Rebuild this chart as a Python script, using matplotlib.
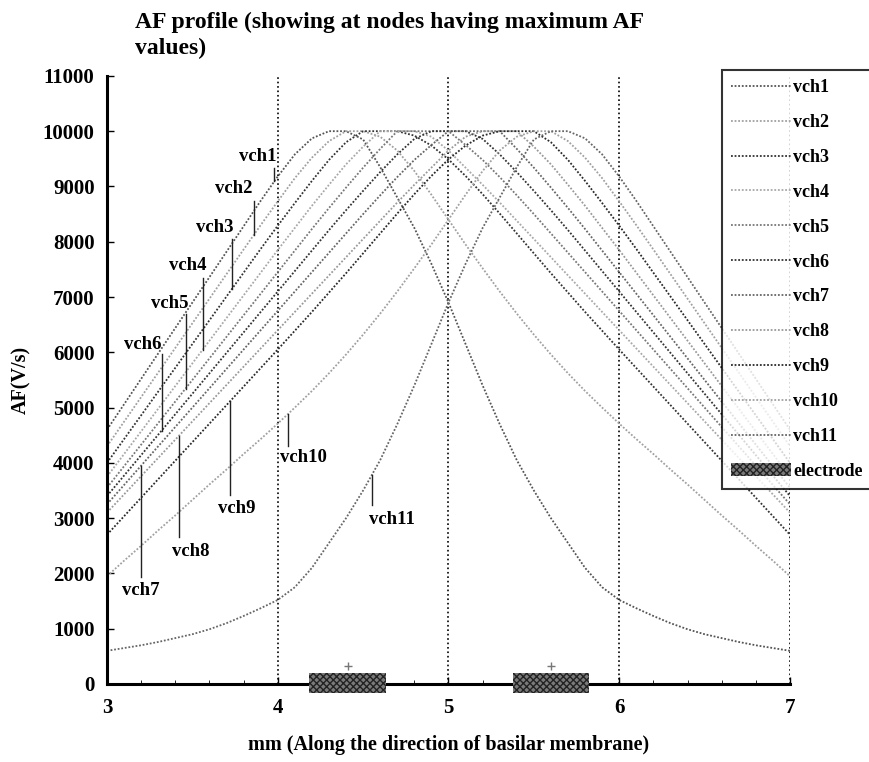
import numpy as np
import matplotlib
matplotlib.use('Agg')
import matplotlib.pyplot as plt
from matplotlib.patches import Rectangle
from matplotlib.lines import Line2D

plt.rcParams['font.family'] = ['Liberation Serif', 'DejaVu Serif']
plt.rcParams['font.weight'] = 'bold'
plt.rcParams['axes.labelweight'] = 'bold'

# positions along the basilar membrane (mm)
x_mm = [3.0, 3.1, 3.2, 3.3, 3.4, 3.5, 3.6, 3.7, 3.8, 3.9,
        4.0, 4.1, 4.2, 4.3, 4.4, 4.5, 4.6, 4.7, 4.8, 4.9,
        5.0, 5.1, 5.2, 5.3, 5.4, 5.5, 5.6, 5.7, 5.8, 5.9,
        6.0, 6.1, 6.2, 6.3, 6.4, 6.5, 6.6, 6.7, 6.8, 6.9, 7.0]

# AF values (V/s), one list per virtual channel
vch1 = [4600, 5060, 5520, 5980, 6440, 6900, 7360, 7820, 8280, 8740, 9180, 9580, 9870, 10000,
        10000, 9850, 9350, 8800, 8250, 7600, 6900, 6150, 5400, 4700, 4050, 3500, 3000, 2550,
        2100, 1750, 1520, 1370, 1230, 1100, 990, 900, 830, 760, 700, 650, 600]
vch2 = [4300, 4745, 5190, 5635, 6080, 6525, 6970, 7415, 7860, 8300, 8730, 9150, 9520, 9820,
        10000, 10000, 9900, 9650, 9280, 8850, 8400, 7950, 7520, 7100, 6700, 6320, 5960, 5620,
        5300, 5000, 4710, 4430, 4160, 3880, 3610, 3330, 3050, 2780, 2500, 2230, 1950]
vch3 = [4000, 4430, 4860, 5290, 5720, 6150, 6580, 7010, 7440, 7870, 8290, 8700, 9100, 9480,
        9800, 10000, 10000, 10000, 9920, 9740, 9490, 9190, 8860, 8510, 8150, 7790, 7430, 7080,
        6730, 6390, 6050, 5715, 5380, 5045, 4710, 4375, 4040, 3705, 3370, 3035, 2700]
vch4 = [3750, 4160, 4570, 4980, 5390, 5800, 6210, 6620, 7030, 7440, 7850, 8250, 8650, 9030,
        9400, 9720, 10000, 10000, 10000, 9900, 9650, 9340, 9030, 8710, 8380, 8050, 7720, 7390,
        7060, 6730, 6400, 6070, 5740, 5410, 5080, 4750, 4420, 4090, 3760, 3430, 3100]
vch5 = [3550, 3940, 4330, 4720, 5110, 5500, 5890, 6280, 6670, 7060, 7450, 7840, 8230, 8610,
        8980, 9340, 9680, 10000, 10000, 10000, 10000, 9750, 9480, 9170, 8840, 8500, 8150, 7800,
        7450, 7100, 6750, 6400, 6050, 5700, 5350, 5000, 4650, 4300, 3950, 3600, 3250]
vch6 = [3400, 3770, 4140, 4510, 4880, 5250, 5620, 5990, 6360, 6730, 7100, 7470, 7840, 8210,
        8570, 8920, 9260, 9580, 9860, 10000, 10000, 10000, 9860, 9580, 9260, 8920, 8570, 8210,
        7840, 7470, 7100, 6730, 6360, 5990, 5620, 5250, 4880, 4510, 4140, 3770, 3400]
vch7 = [3250, 3600, 3950, 4300, 4650, 5000, 5350, 5700, 6050, 6400, 6750, 7100, 7450, 7800,
        8150, 8500, 8840, 9170, 9480, 9750, 10000, 10000, 10000, 10000, 9680, 9340, 8980, 8610,
        8230, 7840, 7450, 7060, 6670, 6280, 5890, 5500, 5110, 4720, 4330, 3940, 3550]
vch8 = [3100, 3430, 3760, 4090, 4420, 4750, 5080, 5410, 5740, 6070, 6400, 6730, 7060, 7390,
        7720, 8050, 8380, 8710, 9030, 9340, 9650, 9900, 10000, 10000, 10000, 9720, 9400, 9030,
        8650, 8250, 7850, 7440, 7030, 6620, 6210, 5800, 5390, 4980, 4570, 4160, 3750]
vch9 = [2700, 3035, 3370, 3705, 4040, 4375, 4710, 5045, 5380, 5715, 6050, 6390, 6730, 7080,
        7430, 7790, 8150, 8510, 8860, 9190, 9490, 9740, 9920, 10000, 10000, 10000, 9800, 9480,
        9100, 8700, 8290, 7870, 7440, 7010, 6580, 6150, 5720, 5290, 4860, 4430, 4000]
vch10 = [1950, 2230, 2500, 2780, 3050, 3330, 3610, 3880, 4160, 4430, 4710, 5000, 5300, 5620,
         5960, 6320, 6700, 7100, 7520, 7950, 8400, 8850, 9280, 9650, 9900, 10000, 10000, 9820,
         9520, 9150, 8730, 8300, 7860, 7415, 6970, 6525, 6080, 5635, 5190, 4745, 4300]
vch11 = [600, 650, 700, 760, 830, 900, 990, 1100, 1230, 1370, 1520, 1750, 2100, 2550,
         3000, 3500, 4050, 4700, 5400, 6150, 6900, 7600, 8250, 8800, 9350, 9850, 10000, 10000,
         9870, 9580, 9180, 8740, 8280, 7820, 7360, 6900, 6440, 5980, 5520, 5060, 4600]

channels = [vch1, vch2, vch3, vch4, vch5, vch6, vch7, vch8, vch9, vch10, vch11]
names = ['vch1', 'vch2', 'vch3', 'vch4', 'vch5', 'vch6', 'vch7', 'vch8', 'vch9', 'vch10', 'vch11']
grays = ['#555555', '#a0a0a0', '#333333', '#a8a8a8', '#777777', '#333333',
         '#666666', '#999999', '#2a2a2a', '#a0a0a0', '#666666']

# electrode centres (mm) and width
electrode_x = [4.41, 5.60]
electrode_w = 0.45

# where each text label points to its curve (x in mm)
label_x = [3.98, 3.86, 3.73, 3.56, 3.46, 3.32, 3.20, 3.42, 3.72, 4.06, 4.55]

fig = plt.figure(figsize=(8.7, 7.62), dpi=100)
ax = fig.add_axes([0.123, 0.1024, 0.785, 0.798])

for vals, name, col in zip(channels, names, grays):
    ax.plot(x_mm, vals, color=col, lw=1.3, ls=(0, (1, 1)), label=name)

# electrodes on the x axis
for ex in electrode_x:
    r = Rectangle((ex - electrode_w / 2, -170), electrode_w, 370, facecolor='#7a7a7a',
                  edgecolor='#222222', hatch='xxxxx', lw=0, clip_on=False, zorder=5)
    ax.add_patch(r)
    ax.plot([ex], [330], marker='+', color='#777777', ms=6, clip_on=False, zorder=5)

# channel labels with vertical pointers
# (tail y, text x, text y) for each label, text above for vch1-6, below for vch7-11
lab_layout = [(9330, 3.88, 9540), (8740, 3.74, 8960), (8050, 3.63, 8260),
              (7350, 3.47, 7570), (6700, 3.37, 6890), (5970, 3.21, 6150),
              (1930, 3.20, 1690), (2650, 3.49, 2390), (3410, 3.76, 3180),
              (4310, 4.15, 4090), (3230, 4.67, 2970)]
for vals, name, lx, (tail, tx, ty) in zip(channels, names, label_x, lab_layout):
    tip = np.interp(lx, x_mm, vals)
    ax.plot([lx, lx], [tip, tail], color='#222222', lw=1.0)
    ax.text(tx, ty, name, fontsize=13.5, ha='center', va='center')

ax.set_xlim(3, 7)
ax.set_ylim(0, 11000)
ax.set_xticks([3, 4, 5, 6, 7])
ax.set_yticks(np.arange(0, 11001, 1000))
ax.set_xticks(np.arange(3, 7.01, 0.2), minor=True)
ax.tick_params(direction='in', labelsize=15, length=5, width=1)
ax.tick_params(axis='x', pad=10)
ax.tick_params(axis='y', pad=9)
ax.tick_params(which='minor', direction='in', length=3)
ax.xaxis.grid(True, color='black', ls=':', lw=1.2)
for s in ['top', 'right']:
    ax.spines[s].set_visible(False)
for s in ['left', 'bottom']:
    ax.spines[s].set_linewidth(2.2)

ax.set_xlabel('mm (Along the direction of basilar membrane)', fontsize=14.5, labelpad=12)
ax.set_ylabel('AF(V/s)', fontsize=14.5, labelpad=8)
fig.text(0.155, 0.985, 'AF profile (showing at nodes having maximum AF\nvalues)',
         fontsize=17, ha='left', va='top', linespacing=1.3)

handles = [Line2D([], [], color=c, lw=1.3, ls=(0, (1, 1))) for c in grays]
handles.append(Rectangle((0, 0), 1, 1, facecolor='#7a7a7a', edgecolor='#222222',
                         hatch='xxxxx', lw=0))
leg = fig.legend(handles, names + ['electrode'], loc='upper left',
                 bbox_to_anchor=(0.830, 0.908), fontsize=13, frameon=True,
                 fancybox=False, handlelength=3.3, handletextpad=0.15,
                 labelspacing=0.99, borderpad=0.5, borderaxespad=0)
leg.get_frame().set_edgecolor('black')
leg.get_frame().set_linewidth(1.5)

plt.savefig('out.png', dpi=100)
